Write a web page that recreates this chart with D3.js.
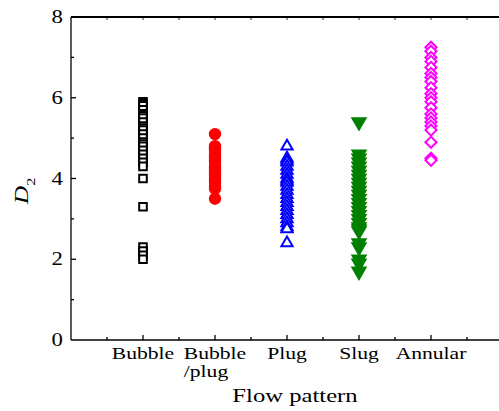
<!DOCTYPE html>
<html>
<head>
<meta charset="utf-8">
<script src="https://cdn.jsdelivr.net/npm/d3@7"></script>
<style>
  body { margin: 0; background: #fff; }
  text { font-family: "Liberation Serif", "Times New Roman", serif; fill: #000; }
</style>
</head>
<body>
<script>
// #Data
const categories = ['Bubble', 'Bubble\n/plug', 'Plug', 'Slug', 'Annular'];
const yTicks = [0, 2, 4, 6, 8];

const bubble = [5.9, 5.85, 5.8, 5.7, 5.6, 5.55, 5.5, 5.4, 5.3, 5.25, 5.2, 5.1, 5.0, 4.9, 4.85, 4.8, 4.7, 4.6, 4.5, 4.4, 4.3, 4.0, 3.3, 2.3, 2.2, 2.1, 2.0];
const bubblePlug = [5.1, 4.8, 4.75, 4.7, 4.6, 4.55, 4.5, 4.45, 4.4, 4.3, 4.25, 4.2, 4.15, 4.1, 4.0, 3.95, 3.9, 3.8, 3.75, 3.5];
const plug = [4.8, 4.5, 4.45, 4.4, 4.3, 4.2, 4.1, 4.0, 3.95, 3.9, 3.8, 3.7, 3.6, 3.5, 3.4, 3.3, 3.2, 3.1, 3.0, 2.9, 2.8, 2.75, 2.4];
const slug = [5.4, 4.6, 4.5, 4.4, 4.3, 4.2, 4.1, 4.0, 3.9, 3.8, 3.7, 3.6, 3.5, 3.4, 3.3, 3.2, 3.1, 3.0, 2.9, 2.8, 2.75, 2.7, 2.4, 2.3, 2.0, 1.9, 1.7];
const annular = [7.25, 7.15, 7.0, 6.9, 6.75, 6.6, 6.5, 6.4, 6.25, 6.1, 6.0, 5.9, 5.75, 5.6, 5.5, 5.4, 5.3, 5.2, 4.9, 4.5, 4.45];

const series = [
    {values: bubble,     symbol: d3.symbolSquare,   size: 58, fill: '#fff',    stroke: '#000',    rot: 0},
    {values: bubblePlug, symbol: d3.symbolCircle,   size: 85, fill: '#ff0000', stroke: '#ff0000', rot: 0},
    {values: plug,       symbol: d3.symbolTriangle, size: 55, fill: '#fff',    stroke: '#0000ff', rot: 0},
    {values: slug,       symbol: d3.symbolTriangle, size: 75, fill: '#008000', stroke: '#008000', rot: 180},
    {values: annular,    symbol: d3.symbolSquare,   size: 62, fill: '#fff',    stroke: '#ff00ff', rot: 45}
];

// #Define SVG
const width = 499, height = 411;
const svg = d3.select('body')
              .append('svg')
              .attr('width', width)
              .attr('height', height);

const mLeft = 71, mRight = 503, mTop = 17, mBottom = 340;

const x = d3.scaleLinear().domain([0, 6]).range([mLeft, mRight]);
const y = d3.scaleLinear().domain([0, 8]).range([mBottom, mTop]);

// #Minor / major ticks
const majorX = d3.range(1, 6);
const minorX = d3.range(0.5, 6, 1);
const minorY = [1, 3, 5, 7];

const axes = svg.append('g').attr('stroke', '#000').attr('stroke-width', 1.3);

// frame lines
axes.append('line').attr('x1', mLeft).attr('x2', mRight).attr('y1', mBottom).attr('y2', mBottom);
axes.append('line').attr('x1', mLeft).attr('x2', mRight).attr('y1', mTop).attr('y2', mTop).attr('stroke-width', 1.8);
axes.append('line').attr('x1', mLeft).attr('x2', mLeft).attr('y1', mTop).attr('y2', mBottom);

// y ticks (inward)
axes.selectAll('.ymaj').data(yTicks.slice(1, -1)).enter().append('line')
    .attr('x1', mLeft).attr('x2', mLeft + 5).attr('y1', d => y(d)).attr('y2', d => y(d));
axes.selectAll('.ymin').data(minorY).enter().append('line')
    .attr('x1', mLeft).attr('x2', mLeft + 3).attr('y1', d => y(d)).attr('y2', d => y(d));

// x ticks bottom (inward)
axes.selectAll('.xmaj').data(majorX).enter().append('line')
    .attr('x1', d => x(d)).attr('x2', d => x(d)).attr('y1', mBottom).attr('y2', mBottom - 5);
axes.selectAll('.xmin').data(minorX).enter().append('line')
    .attr('x1', d => x(d)).attr('x2', d => x(d)).attr('y1', mBottom).attr('y2', mBottom - 3);
// x ticks top
axes.selectAll('.xtop').data(majorX.concat(minorX)).enter().append('line')
    .attr('x1', d => x(d)).attr('x2', d => x(d)).attr('y1', mTop).attr('y2', mTop + 3)
    .attr('stroke-width', 0.8);

// y tick labels (the source font is drawn a bit wide)
svg.append('g').selectAll('text').data(yTicks).enter().append('text')
   .attr('transform', d => 'translate(' + (mLeft - 8) + ',' + (y(d) + 6) + ') scale(1.2,1)')
   .attr('text-anchor', 'end')
   .style('font-size', '19px')
   .text(d => d);

// x tick labels
svg.append('g').selectAll('text').data(categories).enter().append('text')
   .attr('transform', (d, i) => 'translate(' + x(i + 1) + ',359) scale(1.35,1)')
   .attr('text-anchor', 'middle')
   .style('font-size', '16px')
   .each(function (d) {
       const lines = d.split('\n');
       const t = d3.select(this);
       t.text(lines[0]);
       if (lines.length > 1) {
           const w = this.getComputedTextLength();
           t.append('tspan')
            .attr('x', -w / 2)
            .attr('dy', 18)
            .attr('text-anchor', 'start')
            .text(lines[1]);
       }
   });

// axis titles
svg.append('text')
   .attr('transform', 'translate(' + ((mLeft + 499) / 2 + 10) + ',402) scale(1.37,1)')
   .attr('text-anchor', 'middle')
   .style('font-size', '18px')
   .text('Flow pattern');

svg.append('text')
   .attr('transform', 'translate(28,191) rotate(-90) scale(1.35,1)')
   .attr('text-anchor', 'middle')
   .style('font-size', '19px')
   .html('<tspan font-style="italic">D</tspan><tspan dy="7" style="font-size:12px">2</tspan>');

// #Draw markers
series.forEach((s, i) => {
    const sym = d3.symbol().type(s.symbol).size(s.size);
    svg.append('g')
       .selectAll('path')
       .data(s.values)
       .enter()
       .append('path')
       .attr('d', sym)
       .attr('transform', d => 'translate(' + x(i + 1) + ',' + y(d) + ') rotate(' + s.rot + ')')
       .attr('fill', s.fill)
       .attr('stroke', s.stroke)
       .attr('stroke-width', 2);
});
</script>
</body>
</html>
